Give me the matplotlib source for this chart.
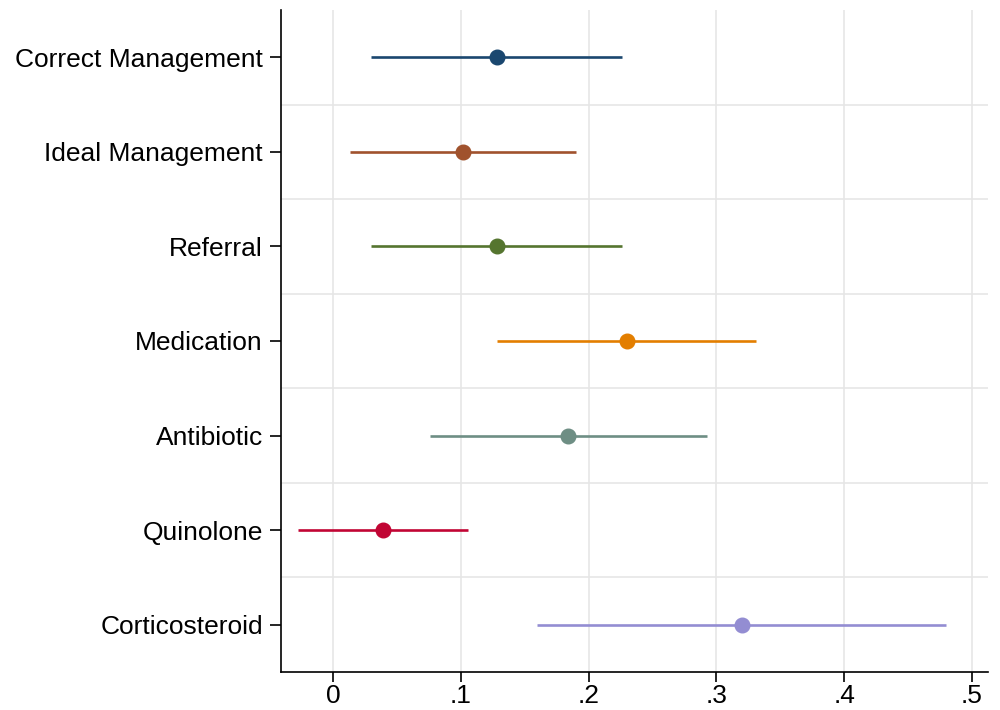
import matplotlib
matplotlib.use("Agg")
import matplotlib.pyplot as plt
import numpy as np

plt.rcParams['font.family'] = ['Liberation Sans', 'DejaVu Sans']

labels = ['Correct Management', 'Ideal Management', 'Referral', 'Medication',
          'Antibiotic', 'Quinolone', 'Corticosteroid']
est = [0.128, 0.102, 0.128, 0.230, 0.184, 0.039, 0.320]
lo = [0.030, 0.013, 0.030, 0.128, 0.076, -0.027, 0.160]
hi = [0.226, 0.190, 0.226, 0.331, 0.293, 0.106, 0.480]
colors = ['#1a476f', '#a0522d', '#55752f', '#e37e00', '#6e8e84', '#c10534', '#938dd2']

xticks = [0, 0.1, 0.2, 0.3, 0.4, 0.5]
xticklabels = ['0', '.1', '.2', '.3', '.4', '.5']

fig = plt.figure(figsize=(10, 7.1), dpi=100)
ax = fig.add_axes([0.281, 0.0535, 0.707, 0.9325])

ypos = np.arange(1, len(labels) + 1)
for y, e, l, h, c in zip(ypos, est, lo, hi, colors):
    ax.plot([l, h], [y, y], color=c, lw=1.9, solid_capstyle='butt', zorder=3)
    ax.plot(e, y, 'o', color=c, ms=10.5, zorder=4)

ax.set_ylim(7.5, 0.5)
ax.set_xlim(-0.0406, 0.5125)
ax.set_yticks(ypos)
ax.set_yticklabels(labels)
ax.set_yticks(ypos[:-1] + 0.5, minor=True)
ax.set_xticks(xticks)
ax.set_xticklabels(xticklabels)

ax.grid(axis='x', which='major', color='#e6e6e6', lw=1.2, zorder=0)
ax.grid(axis='y', which='minor', color='#e6e6e6', lw=1.2, zorder=0)
ax.tick_params(axis='y', which='minor', length=0)
ax.tick_params(axis='both', which='major', labelsize=19, length=8, width=1.2,
               color='black', pad=5)
ax.tick_params(axis='x', which='major', length=7, pad=1.5)

for side in ['top', 'right']:
    ax.spines[side].set_visible(False)
for side in ['left', 'bottom']:
    ax.spines[side].set_linewidth(1.2)

fig.savefig('out.png', dpi=100)
